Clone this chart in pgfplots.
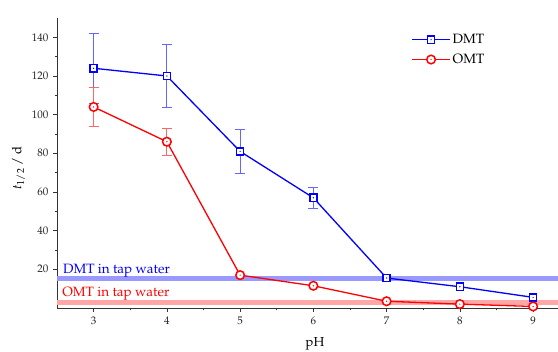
\documentclass[border=0pt]{standalone}
\usepackage[T1]{fontenc}
\usepackage{mathpazo}
\usepackage{pgfplots}
\pgfplotsset{compat=1.18}
\pgfdeclareplotmark{sqdot}{%
  \pgfpathrectangle{\pgfpoint{-\pgfplotmarksize}{-\pgfplotmarksize}}{\pgfpoint{2\pgfplotmarksize}{2\pgfplotmarksize}}%
  \pgfusepathqfillstroke
  \pgfscope\pgfsetfillcolor{blue}\pgfpathcircle{\pgfpointorigin}{0.7pt}\pgfusepathqfill\endpgfscope}
\pgfdeclareplotmark{cdot}{%
  \pgfpathcircle{\pgfpointorigin}{\pgfplotmarksize}%
  \pgfusepathqfillstroke
  \pgfscope\pgfsetfillcolor{red}\pgfpathcircle{\pgfpointorigin}{0.7pt}\pgfusepathqfill\endpgfscope}
\pgfplotstableread{
x y e
3 124 18
4 120 16.5
5 81 11.3
6 57 5.6
7 15.5 0
8 11 0
9 5.5 0
}\dmt
\pgfplotstableread{
x y e
3 104 10
4 86 7
5 17 0
6 11.5 0
7 3.5 0
8 2 0
9 0.8 0
}\omt
\pgfplotstableread{
x y e
3 124 18
4 120 16.5
5 81 11.3
6 57 5.6
}\dmterr
\pgfplotstableread{
x y e
3 104 10
4 86 7
}\omterr
\begin{document}
\begin{tikzpicture}
\begin{axis}[
  name=ax,
  scale only axis, width=501pt, height=290pt,
  xmin=2.5, xmax=9.34, ymin=0, ymax=150,
  axis x line*=bottom, axis y line*=left,
  axis line style={-, line width=0.8pt, black!80},
  xtick={3,...,9}, minor x tick num=1,
  ytick={20,40,...,140}, minor y tick num=1,
  tick align=outside, major tick length=4pt, minor tick length=2.5pt,
  tick style={black!80, line width=0.6pt},
  ticklabel style={font=\fontsize{11}{12}\selectfont, text=black!85},
  yticklabel style={xshift=-1pt},
  xticklabel style={yshift=-1pt},
  legend style={at={(0.705,0.955)}, anchor=north west, draw=none, fill=none, font=\fontsize{13.5}{15}\selectfont, row sep=5pt, inner sep=1pt},
  legend cell align=left,
  legend image code/.code={\draw[mark repeat=2,mark phase=2] plot coordinates {(0pt,0pt) (19pt,0pt) (38pt,0pt)};},
]
\addplot[blue!40, line width=5pt, forget plot] coordinates {(2.5,15) (9.34,15)};
\addplot[red!35, line width=5pt, forget plot] coordinates {(2.5,3) (9.34,3)};
\addplot[forget plot, only marks, mark=none, error bars/.cd, y dir=both, y explicit,
  error bar style={blue!60, line width=0.9pt}, error mark options={blue!60, line width=0.9pt, rotate=90, mark size=5pt}]
  table[x=x, y=y, y error=e] {\dmterr};
\addplot[forget plot, only marks, mark=none, error bars/.cd, y dir=both, y explicit,
  error bar style={red!60, line width=0.9pt}, error mark options={red!60, line width=0.9pt, rotate=90, mark size=5pt}]
  table[x=x, y=y, y error=e] {\omterr};
\addplot[blue, line width=1.3pt, mark=sqdot, mark size=3.6pt, mark options={fill=white, line width=1.5pt}]
  table[x=x, y=y] {\dmt};
\addlegendentry{DMT}
\addplot[red, line width=1.3pt, mark=cdot, mark size=4.3pt, mark options={fill=white, line width=1.5pt}]
  table[x=x, y=y] {\omt};
\addlegendentry{OMT}
\node[blue, anchor=base west, font=\fontsize{13.5}{15}\selectfont, inner sep=0pt] at (axis cs:2.58,17.8) {DMT in tap water};
\node[red, anchor=base west, font=\fontsize{13.5}{15}\selectfont, inner sep=0pt] at (axis cs:2.57,6) {OMT in tap water};
\end{axis}
\node[font=\fontsize{13}{14}\selectfont, anchor=base, inner sep=0pt] at ([shift={(258pt,-39pt)}]ax.south west) {pH};
\node[font=\fontsize{13}{14}\selectfont, rotate=90, anchor=center] at ([shift={(-38.5pt,140pt)}]ax.south west) {$t_{1/2}$ / d};
\pgfresetboundingbox
\useasboundingbox ([shift={(-57pt,-44pt)}]ax.south west) rectangle ([shift={(0pt,18pt)}]ax.north east);
\end{tikzpicture}
\end{document}
